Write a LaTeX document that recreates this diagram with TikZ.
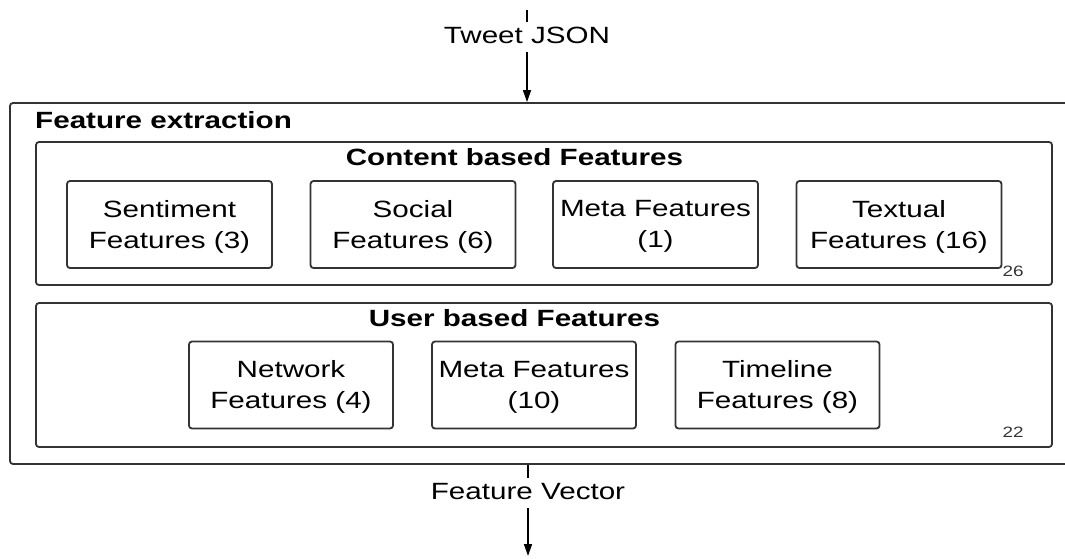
\documentclass[tikz,border=0pt]{standalone}
\usepackage{fontspec}
\setmainfont[FakeStretch=1.26]{Liberation Sans}
\usetikzlibrary{arrows.meta}
\begin{document}
\begin{tikzpicture}[x=1pt,y=-1pt,
  frame/.style={draw=black!80, line width=1.8pt, rounded corners=3pt, inner sep=0pt},
  featbox/.style={frame, minimum width=205pt, minimum height=87pt, align=center,
    text depth=1pt, font=\fontsize{23.5}{31}\selectfont},
  title/.style={font=\fontsize{23.5}{31}\selectfont\bfseries, anchor=base, inner sep=0pt},
  flowlabel/.style={font=\fontsize{23.5}{31}\selectfont, anchor=base, fill=white,
    text height=17pt, text depth=5pt, inner xsep=2pt, inner ysep=4pt},
  count/.style={font=\fontsize{15}{18}\selectfont, text=black!80, anchor=base, inner sep=0pt},
  flow/.style={draw=black, line width=1.6pt},
  tip/.style={-{Triangle[length=12pt,width=8pt]}}
]
\useasboundingbox (0,0) rectangle (1065,558);
\clip (0,0) rectangle (1065,558);

% enclosing stage and its two groups
\node[frame, minimum width=1065pt, minimum height=361pt] (outer) at (542.5,283.5) {};
\node[title, anchor=base west] (outertitle) at (35,128) {Feature extraction};

\node[frame, minimum width=1016pt, minimum height=143pt] (content) at (544,213.5) {};
\node[title] (contenttitle) at (514.5,165) {Content based Features};
\node[count] (contentcount) at (1013,276) {26};

\node[frame, minimum width=1016pt, minimum height=144pt] (user) at (544,375) {};
\node[title] (usertitle) at (514.5,326) {User based Features};
\node[count] (usercount) at (1013,437) {22};

% content based feature groups
\node[featbox] (sentiment) at (169.5,224.5) {Sentiment\\Features (3)};
\node[featbox] (social)    at (413,224.5)   {Social\\Features (6)};
\node[featbox] (cmeta)     at (655.5,224.5) {Meta Features\\(1)};
\node[featbox] (textual)   at (899,224.5)   {Textual\\Features (16)};

% user based feature groups
\node[featbox, minimum width=204pt] (network)  at (291,385)   {Network\\Features (4)};
\node[featbox, minimum width=204pt] (umeta)    at (534,385)   {Meta Features\\(10)};
\node[featbox, minimum width=204pt] (timeline) at (777.5,385) {Timeline\\Features (8)};

% input
\coordinate (tin) at (527,10);
\node[flowlabel] (tweet) at (527,43) {Tweet JSON};
\draw[flow] (tin) -- (tweet.north);
\draw[flow, tip] (tweet.south) -- (tweet.south |- outer.north);

% output
\node[flowlabel] (vec) at (528,499) {Feature Vector};
\coordinate (vout) at (528,556);
\draw[flow] (vec.north |- outer.south) -- (vec.north);
\draw[flow, tip] (vec.south) -- (vout);
\end{tikzpicture}
\end{document}
